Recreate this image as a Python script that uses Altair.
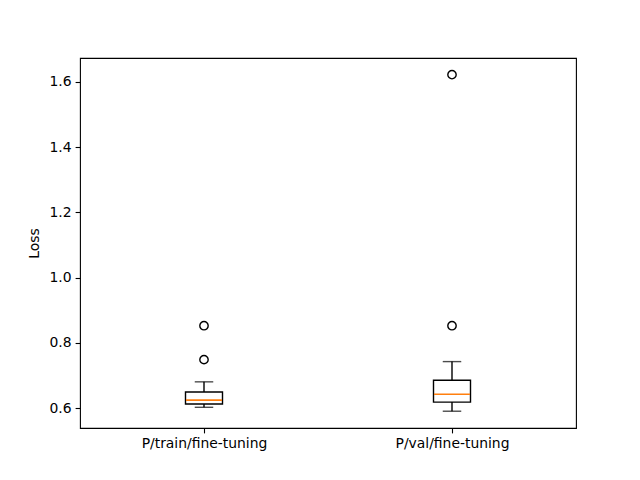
import altair as alt
import pandas as pd

categories = ["P/train/fine-tuning", "P/val/fine-tuning"]
whisker_low = [0.603, 0.591]
q1 = [0.613, 0.619]
median = [0.625, 0.643]
q3 = [0.650, 0.686]
whisker_high = [0.681, 0.743]
outlier_cat = ["P/train/fine-tuning", "P/train/fine-tuning", "P/val/fine-tuning", "P/val/fine-tuning"]
outlier_val = [0.853, 0.749, 1.622, 0.853]

stats = pd.DataFrame({
    "cat": categories, "lo": whisker_low, "q1": q1, "med": median,
    "q3": q3, "hi": whisker_high,
})
outs = pd.DataFrame({"cat": outlier_cat, "v": outlier_val})

W, H = 496, 370
FONT = "DejaVu Sans"

x = alt.X("cat:N", sort=categories, title=None,
          scale=alt.Scale(type="point", padding=0.5),
          axis=alt.Axis(labelAngle=0, labelFont=FONT, labelFontSize=13.9, labelColor="black",
                        tickColor="black", tickSize=4.9, tickWidth=1.1, labelPadding=4,
                        domain=False, grid=False))
yscale = alt.Scale(domain=[0.5396, 1.673], nice=False, zero=False)
yaxis = alt.Axis(title="Loss", values=[0.6, 0.8, 1.0, 1.2, 1.4, 1.6], format=".1f",
                 labelFont=FONT, labelFontSize=13.9, labelColor="black",
                 titleFont=FONT, titleFontSize=13.9, titleFontWeight="normal", titleColor="black",
                 tickColor="black", tickSize=4.9, tickWidth=1.1, labelPadding=4, titlePadding=8,
                 domain=False, grid=False)

base = alt.Chart(stats)

whisk_lo = base.mark_rule(color="black", strokeWidth=1.4).encode(
    x=x, y=alt.Y("lo:Q", scale=yscale, axis=yaxis), y2="q1:Q")
whisk_hi = base.mark_rule(color="black", strokeWidth=1.4).encode(
    x=x, y=alt.Y("q3:Q", scale=yscale, axis=yaxis), y2="hi:Q")
box = base.mark_bar(size=37, fill="white", stroke="black", strokeWidth=1.4).encode(
    x=x, y=alt.Y("q1:Q", scale=yscale, axis=yaxis), y2="q3:Q")
cap_lo = base.mark_tick(orient="horizontal", size=18.5, thickness=1.4, color="black").encode(
    x=x, y=alt.Y("lo:Q", scale=yscale, axis=yaxis))
cap_hi = base.mark_tick(orient="horizontal", size=18.5, thickness=1.4, color="black").encode(
    x=x, y=alt.Y("hi:Q", scale=yscale, axis=yaxis))
med = base.mark_tick(orient="horizontal", size=36, thickness=1.6, color="#ff7f0e", opacity=1).encode(
    x=x, y=alt.Y("med:Q", scale=yscale, axis=yaxis))
pts = alt.Chart(outs).mark_point(shape="circle", size=70, filled=False, color="black",
                                 strokeWidth=1.4, opacity=1).encode(
    x=x, y=alt.Y("v:Q", scale=yscale, axis=yaxis))

chart = alt.layer(whisk_lo, whisk_hi, box, cap_lo, cap_hi, med, pts).properties(
    width=W, height=H,
    autosize=alt.AutoSizeParams(type="none"),
    padding={"left": 72, "top": 50, "right": 56, "bottom": 45},
    background="white",
).configure_view(stroke="black", strokeWidth=1.1)

chart.save("out.html", embed_options={"renderer": "svg", "actions": False})
